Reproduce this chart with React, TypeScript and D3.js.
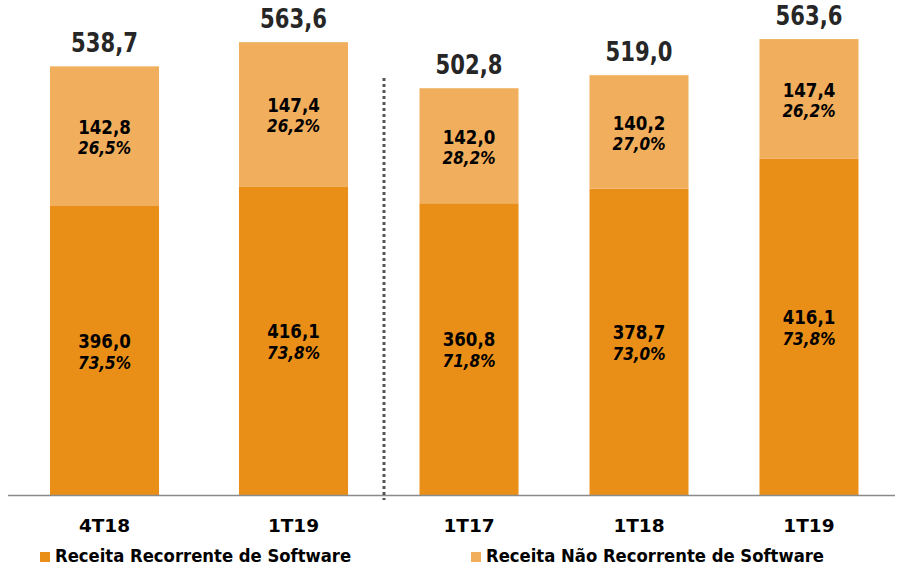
import React from "react";
import * as d3 from "d3";

const categories = ["4T18", "1T19", "1T17", "1T18", "1T19"];
const groups = [0, 0, 1, 1, 1];
const recurrent = [396.0, 416.1, 360.8, 378.7, 416.1];
const nonRecurrent = [142.8, 147.4, 142.0, 140.2, 147.4];
const totals = [538.7, 563.6, 502.8, 519.0, 563.6];
const recurrentLabels = ["396,0", "416,1", "360,8", "378,7", "416,1"];
const nonRecurrentLabels = ["142,8", "147,4", "142,0", "140,2", "147,4"];
const totalLabels = ["538,7", "563,6", "502,8", "519,0", "563,6"];
const recurrentPct = ["73,5%", "73,8%", "71,8%", "73,0%", "73,8%"];
const nonRecurrentPct = ["26,5%", "26,2%", "28,2%", "27,0%", "26,2%"];
const seriesNames = ["Receita Recorrente de Software", "Receita Não Recorrente de Software"];

const W = 905;
const H = 582;
const C_REC = "#E98F18";
const C_NON = "#F1AE5C";
const FONT = "'DejaVu Sans', Verdana, sans-serif";
const FONT_C = "'DejaVu Sans Condensed', 'DejaVu Sans', sans-serif";

function T(props: { x: number; y: number; sy?: number; size: number; italic?: boolean; fill?: string; anchor?: string; family?: string; children: React.ReactNode }) {
  const { x, y, sy = 1, size, italic, fill = "#000", anchor = "middle", family = FONT_C, children } = props;
  return (
    <g transform={`translate(${x},${y}) scale(1,${sy})`}>
      <text x={0} y={0} textAnchor={anchor} fontFamily={family} fontWeight="bold" fontStyle={italic ? "italic" : "normal"} fontSize={size} fill={fill}>
        {children}
      </text>
    </g>
  );
}

export default function App() {
  const idxLeft = [0, 1].map(String);
  const idxRight = [2, 3, 4].map(String);
  const xLeft = d3.scaleBand().domain(idxLeft).range([10, 388]).paddingInner(0.423).paddingOuter(0.2115);
  const xRight = d3.scaleBand().domain(idxRight).range([385, 893]).paddingInner(0.4176).paddingOuter(0.203);
  const yLeft = d3.scaleLinear().domain([100, 600]).range([495.5, 495.5 - 500 * 0.978]);
  const yRight = d3.scaleLinear().domain([0, 600]).range([495.5, 495.5 - 600 * 0.81]);

  const bars = categories.map((c, i) => {
    const g = groups[i];
    const x = g === 0 ? xLeft : xRight;
    const y = g === 0 ? yLeft : yRight;
    const x0 = x(String(i)) as number;
    const bw = x.bandwidth();
    const base = y.range()[0];
    const yRec = y(recurrent[i]);
    const yTot = y(recurrent[i] + nonRecurrent[i]);
    return { c, i, x0, bw, base, yRec, yTot, cx: x0 + bw / 2 };
  });

  return (
    <svg width={W} height={H} style={{ position: "absolute", left: 0, top: 0, background: "#fff" }}>
      {bars.map((b) => (
        <g key={b.i}>
          <rect x={b.x0} y={b.yRec} width={b.bw} height={b.base - b.yRec} fill={C_REC} />
          <rect x={b.x0} y={b.yTot} width={b.bw} height={b.yRec - b.yTot} fill={C_NON} />
          <T x={b.cx} y={b.yTot - 14} sy={1.13} size={23.5} fill="#262626">{totalLabels[b.i]}</T>
          <T x={b.cx} y={(b.yTot + b.yRec) / 2 - 2} sy={1.06} size={18.5}>{nonRecurrentLabels[b.i]}</T>
          <T x={b.cx} y={(b.yTot + b.yRec) / 2 + 18} sy={1.06} size={17} italic>{nonRecurrentPct[b.i]}</T>
          <T x={b.cx} y={(b.yRec + b.base) / 2 - 3} sy={1.06} size={18.5}>{recurrentLabels[b.i]}</T>
          <T x={b.cx} y={(b.yRec + b.base) / 2 + 18} sy={1.06} size={17} italic>{recurrentPct[b.i]}</T>
          <T x={b.cx} y={531.5} size={18.5} family={FONT}>{b.c}</T>
        </g>
      ))}
      <line x1={8} x2={895} y1={495.5} y2={495.5} stroke="#8a8a8a" strokeWidth={1.5} />
      <line x1={384} x2={384} y1={78} y2={500} stroke="#555" strokeWidth={3} strokeDasharray="3,3" />
      <rect x={40} y={552} width={10} height={10} fill={C_REC} />
      <T x={55} y={561.5} size={18.3} anchor="start">{seriesNames[0]}</T>
      <rect x={471} y={552} width={10} height={10} fill={C_NON} />
      <T x={486} y={561.5} size={18.3} anchor="start">{seriesNames[1]}</T>
    </svg>
  );
}
